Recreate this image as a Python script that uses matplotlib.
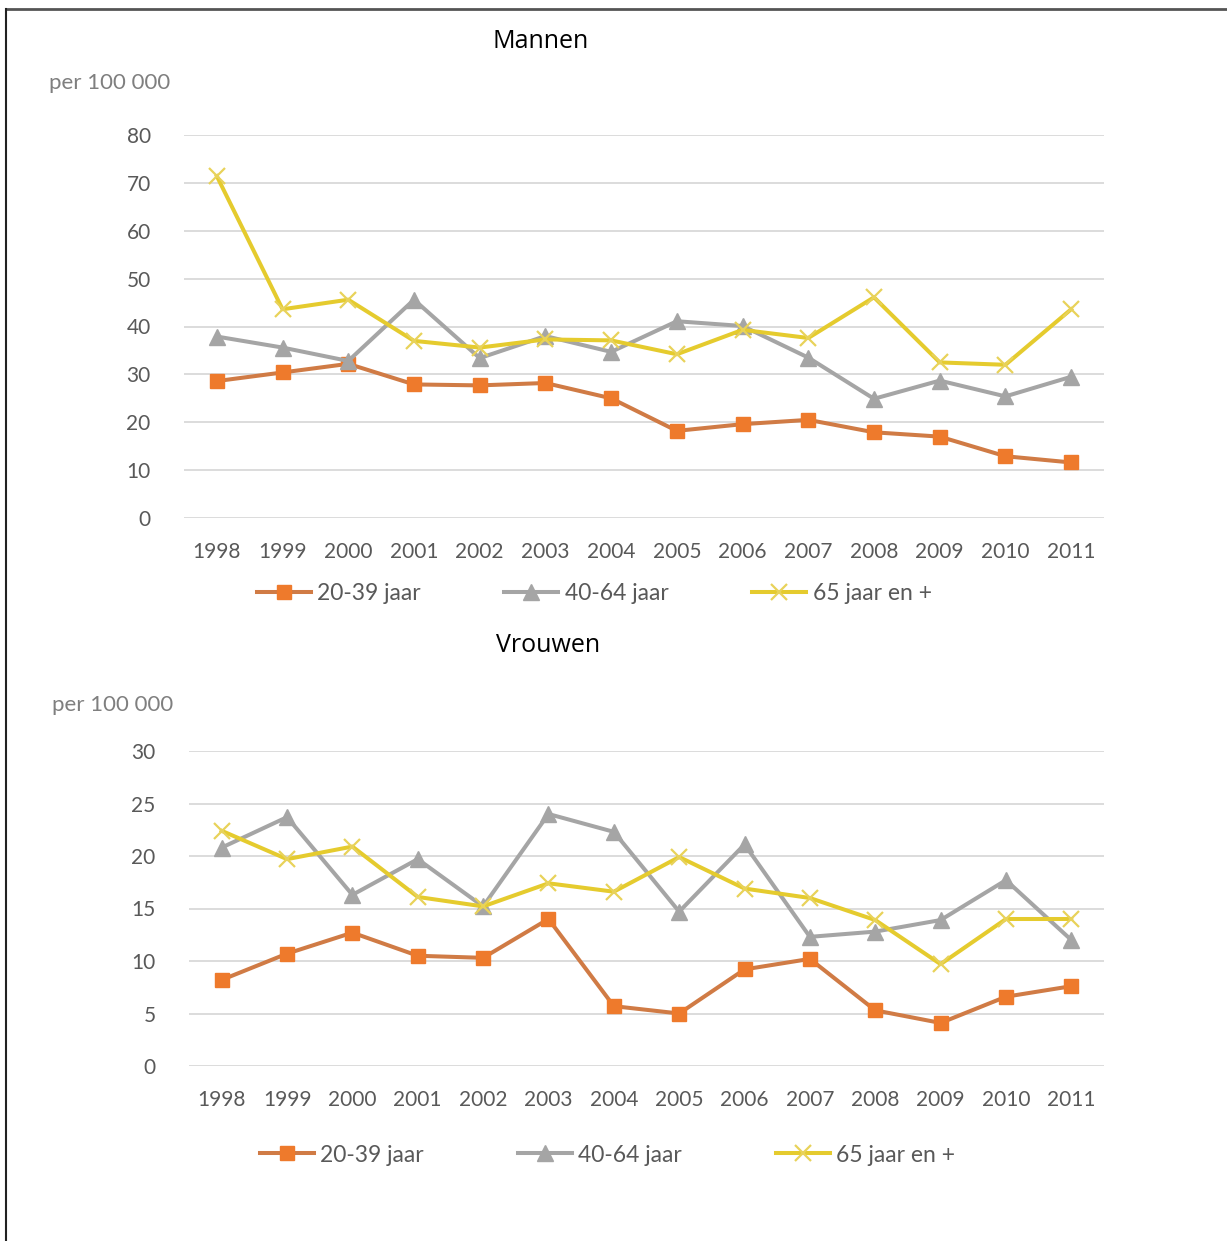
import matplotlib
matplotlib.use("Agg")
import matplotlib.pyplot as plt
from matplotlib import font_manager

# === 数据 ===
years = ["1998", "1999", "2000", "2001", "2002", "2003", "2004",
         "2005", "2006", "2007", "2008", "2009", "2010", "2011"]
series_names = ["20-39 jaar", "40-64 jaar", "65 jaar en +"]

men_20_39 = [28.6, 30.4, 32.2, 27.9, 27.7, 28.2, 25.0, 18.2, 19.6, 20.5, 17.9, 17.0, 12.9, 11.6]
men_40_64 = [37.9, 35.6, 32.8, 45.6, 33.4, 38.0, 34.7, 41.1, 40.1, 33.5, 24.9, 28.7, 25.4, 29.5]
men_65 = [71.4, 43.6, 45.6, 37.0, 35.6, 37.3, 37.1, 34.2, 39.3, 37.6, 46.1, 32.5, 32.0, 43.6]

women_20_39 = [8.2, 10.7, 12.7, 10.5, 10.3, 14.0, 5.7, 5.0, 9.2, 10.2, 5.3, 4.1, 6.6, 7.6]
women_40_64 = [20.8, 23.7, 16.3, 19.7, 15.2, 24.0, 22.3, 14.7, 21.1, 12.3, 12.8, 13.9, 17.7, 12.0]
women_65 = [22.4, 19.7, 20.9, 16.1, 15.2, 17.4, 16.6, 19.9, 16.9, 16.0, 13.9, 9.7, 14.0, 14.0]

# === 样式 ===
installed = {f.name for f in font_manager.fontManager.ttflist}
tick_font = "Liberation Sans Narrow" if "Liberation Sans Narrow" in installed else "Lato"
label_font = "Lato"
title_font = "Open Sans"

text_grey = "#595959"
grid_grey = "#D9D9D9"
styles = [
    dict(color="#D07B45", marker="s", mfc="#EE7A2C", mec="#EE7A2C", ms=10),
    dict(color="#A5A5A5", marker="^", mfc="#A5A5A5", mec="#A5A5A5", ms=11),
    dict(color="#E5CB2E", marker="x", mfc="#E5CB2E", mec="#E8D25A", ms=11, mew=1.6),
]

fig = plt.figure(figsize=(12.27, 12.41), dpi=100)


def draw_panel(rect, title, title_xy, unit_xy, data, ymax, legend_y, legend_x, colspace):
    ax = fig.add_axes(rect)
    x = list(range(len(years)))
    handles = []
    for values, st in zip(data, styles):
        h, = ax.plot(x, values, lw=2.9, **st)
        handles.append(h)
    ax.set_xlim(-0.5, len(years) - 0.5)
    ax.set_ylim(0, ymax)
    ax.set_yticks(range(0, ymax + 1, 10 if ymax > 40 else 5))
    ax.set_xticks(x)
    ax.set_xticklabels(years)
    ax.yaxis.grid(True, color=grid_grey, lw=1.3)
    ax.set_axisbelow(True)
    for s in ax.spines.values():
        s.set_visible(False)
    ax.tick_params(length=0, labelcolor=text_grey, labelsize=15)
    ax.tick_params(axis="y", pad=24)
    ax.tick_params(axis="x", pad=17)
    for lab in ax.get_xticklabels() + ax.get_yticklabels():
        lab.set_fontfamily(tick_font)

    fig.text(title_xy[0], title_xy[1], title, ha="center", va="center",
             fontsize=18, family=title_font, color="black")
    fig.text(unit_xy[0], unit_xy[1], "per 100 000", ha="left", va="center",
             fontsize=16, family=label_font, color="#7F7F7F")

    leg = fig.legend(handles, series_names, loc="center left",
                     bbox_to_anchor=(legend_x, legend_y), ncol=3, frameon=False,
                     handlelength=2.36, handletextpad=0.28, columnspacing=colspace,
                     prop={"family": tick_font, "size": 16.5})
    for t in leg.get_texts():
        t.set_color(text_grey)
    return ax


W, H = 1227, 1241
draw_panel([184 / W, 1 - 518 / H, 920 / W, 383 / H], "Mannen",
           (541 / W, 1 - 42 / H), (49 / W, 1 - 83 / H),
           [men_20_39, men_40_64, men_65], 80, 1 - 594 / H, 236 / W, 3.65)
draw_panel([189 / W, 1 - 1066 / H, 915 / W, 315 / H], "Vrouwen",
           (548 / W, 1 - 645 / H), (52 / W, 1 - 705 / H),
           [women_20_39, women_40_64, women_65], 30, 1 - 1155 / H, 239 / W, 4.1)

# 外框：上边和左边
fig.add_artist(plt.Line2D([6 / W, 1], [1 - 9 / H, 1 - 9 / H], color="#555555", lw=2))
fig.add_artist(plt.Line2D([6 / W, 6 / W], [0, 1 - 9 / H], color="#222222", lw=1.5))

fig.savefig("out.png", dpi=100, facecolor="white")
